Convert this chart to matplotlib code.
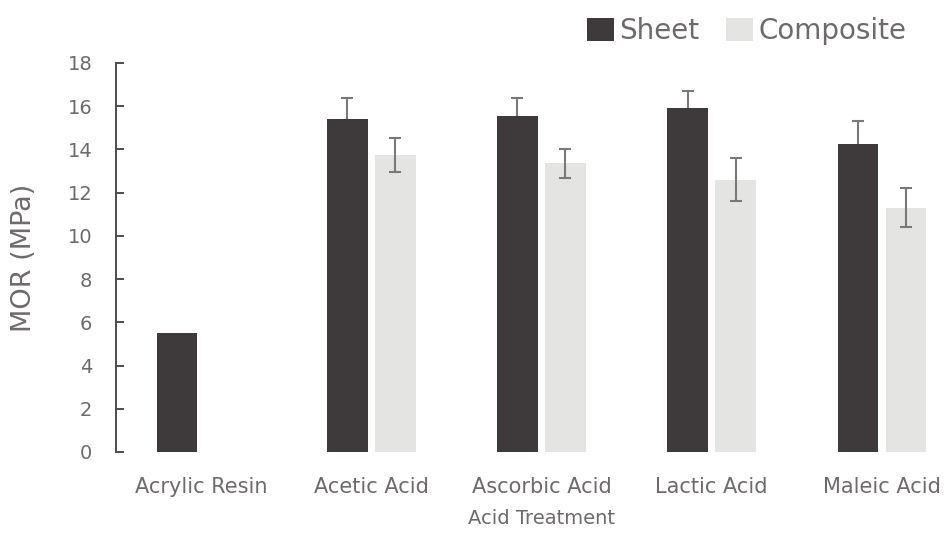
import numpy as np
import matplotlib
matplotlib.use('Agg')
import matplotlib.pyplot as plt

plt.rcParams['font.family'] = ['DejaVu Sans']

categories = ['Acrylic Resin', 'Acetic Acid', 'Ascorbic Acid', 'Lactic Acid', 'Maleic Acid']
sheet = [5.5, 15.4, 15.55, 15.9, 14.25]
sheet_err = [np.nan, 1.0, 0.85, 0.8, 1.05]
composite = [np.nan, 13.75, 13.35, 12.6, 11.3]
composite_err = [np.nan, 0.8, 0.65, 1.0, 0.9]

text_color = '#6e6a6b'
sheet_color = '#3e3a3b'
composite_color = '#e4e5e3'
err_color = '#7d7878'

fig = plt.figure(figsize=(9.52, 5.37), dpi=100)
ax = fig.add_axes([0.1218, 0.1583, 0.894, 0.7244])

x = np.arange(len(categories))
w = 0.238
off = 0.141

ax.bar(x - off, sheet, w, color=sheet_color, label='Sheet')
ax.bar(x + off, composite, w, color=composite_color, label='Composite')

# only the upper whisker shows above the dark bars
_, caps, _ = ax.errorbar(x - off, sheet, yerr=[np.zeros(len(sheet)), sheet_err], fmt='none',
                         ecolor=err_color, elinewidth=1.5, capsize=4, capthick=1.5)
caps[0].set_visible(False)
ax.errorbar(x + off, composite, yerr=composite_err, fmt='none',
            ecolor=err_color, elinewidth=1.5, capsize=4, capthick=1.5)

ax.set_xlim(-0.5, len(categories) - 0.5)
ax.set_ylim(0, 18)
ax.set_yticks(np.arange(0, 19, 2))
ax.set_xticks(x)
ax.set_xticklabels(categories, fontsize=15, color=text_color)
ax.tick_params(axis='x', length=0, pad=18)
ax.tick_params(axis='y', labelsize=14, labelcolor=text_color, color='#4f4b4c',
               direction='in', length=5.5, width=1.4, pad=17)

for s in ['top', 'right', 'bottom']:
    ax.spines[s].set_visible(False)
ax.spines['left'].set_color('#4f4b4c')
ax.spines['left'].set_linewidth(1.4)

ax.set_ylabel('MOR (MPa)', fontsize=19.5, color=text_color)
ax.yaxis.set_label_coords(-0.093, 0.5)
ax.set_xlabel('Acid Treatment', fontsize=14, color=text_color, va='top')
ax.xaxis.set_label_coords(0.5, -0.146)

leg = fig.legend(loc='center', bbox_to_anchor=(0.784, 0.942), ncol=2, frameon=False,
                 fontsize=20, handlelength=0.97, handleheight=0.86,
                 handletextpad=0.2, columnspacing=0.95)
for t in leg.get_texts():
    t.set_color(text_color)

fig.savefig('out.png', dpi=100)
